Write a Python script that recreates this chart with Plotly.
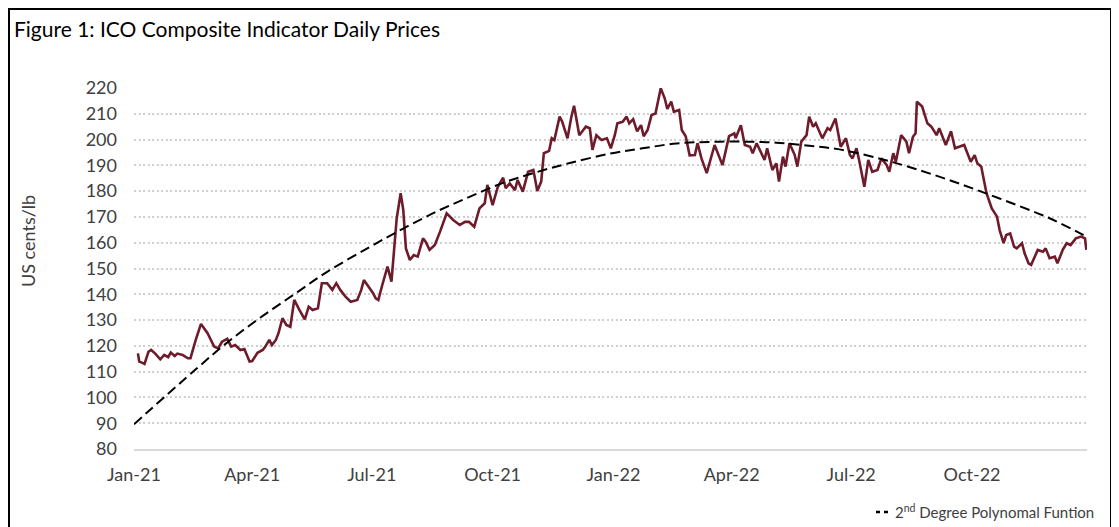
import plotly.graph_objects as go

# ---- Data ----
price_dates = [
    "2021-01-04", "2021-01-05", "2021-01-07", "2021-01-09", "2021-01-12", "2021-01-14", "2021-01-17",
    "2021-01-21", "2021-01-24", "2021-01-27", "2021-01-29", "2021-02-01", "2021-02-03", "2021-02-07",
    "2021-02-11", "2021-02-13", "2021-02-17", "2021-02-21", "2021-02-26", "2021-03-03", "2021-03-06",
    "2021-03-09", "2021-03-13", "2021-03-16", "2021-03-19", "2021-03-23", "2021-03-26", "2021-03-30",
    "2021-04-01", "2021-04-05", "2021-04-09", "2021-04-11", "2021-04-14", "2021-04-16", "2021-04-19",
    "2021-04-21", "2021-04-24", "2021-04-27", "2021-04-30", "2021-05-03", "2021-05-07", "2021-05-11",
    "2021-05-14", "2021-05-17", "2021-05-21", "2021-05-24", "2021-05-28", "2021-06-01", "2021-06-04",
    "2021-06-07", "2021-06-11", "2021-06-15", "2021-06-20", "2021-06-23", "2021-06-25", "2021-06-28",
    "2021-07-02", "2021-07-04", "2021-07-06", "2021-07-09", "2021-07-13", "2021-07-16", "2021-07-18",
    "2021-07-20", "2021-07-23", "2021-07-25", "2021-07-27", "2021-07-30", "2021-08-02", "2021-08-05",
    "2021-08-09", "2021-08-11", "2021-08-14", "2021-08-18", "2021-08-22", "2021-08-27", "2021-09-01",
    "2021-09-06", "2021-09-10", "2021-09-13", "2021-09-17", "2021-09-21", "2021-09-25", "2021-09-27",
    "2021-10-01", "2021-10-05", "2021-10-09", "2021-10-11", "2021-10-14", "2021-10-18", "2021-10-20",
    "2021-10-24", "2021-10-28", "2021-11-01", "2021-11-02", "2021-11-04", "2021-11-07", "2021-11-09",
    "2021-11-13", "2021-11-15", "2021-11-17", "2021-11-21", "2021-11-23", "2021-11-27", "2021-11-30",
    "2021-12-02", "2021-12-06", "2021-12-11", "2021-12-14", "2021-12-16", "2021-12-19", "2021-12-23",
    "2021-12-27", "2021-12-30", "2022-01-02", "2022-01-04", "2022-01-08", "2022-01-11", "2022-01-13",
    "2022-01-16", "2022-01-19", "2022-01-22", "2022-01-24", "2022-01-27", "2022-01-30", "2022-02-02",
    "2022-02-06", "2022-02-09", "2022-02-11", "2022-02-14", "2022-02-16", "2022-02-20", "2022-02-22",
    "2022-02-25", "2022-02-28", "2022-03-04", "2022-03-06", "2022-03-09", "2022-03-13", "2022-03-19",
    "2022-03-25", "2022-03-30", "2022-04-03", "2022-04-04", "2022-04-08", "2022-04-11", "2022-04-15",
    "2022-04-17", "2022-04-20", "2022-04-23", "2022-04-26", "2022-04-28", "2022-05-02", "2022-05-05",
    "2022-05-07", "2022-05-10", "2022-05-12", "2022-05-15", "2022-05-19", "2022-05-21", "2022-05-24",
    "2022-05-28", "2022-05-30", "2022-06-02", "2022-06-04", "2022-06-09", "2022-06-13", "2022-06-15",
    "2022-06-19", "2022-06-23", "2022-06-27", "2022-06-30", "2022-07-02", "2022-07-05", "2022-07-07",
    "2022-07-11", "2022-07-14", "2022-07-17", "2022-07-21", "2022-07-24", "2022-07-28", "2022-07-30",
    "2022-08-02", "2022-08-04", "2022-08-08", "2022-08-12", "2022-08-14", "2022-08-17", "2022-08-19",
    "2022-08-20", "2022-08-24", "2022-08-28", "2022-08-31", "2022-09-04", "2022-09-06", "2022-09-11",
    "2022-09-15", "2022-09-18", "2022-09-21", "2022-09-25", "2022-09-30", "2022-10-03", "2022-10-05",
    "2022-10-08", "2022-10-12", "2022-10-16", "2022-10-20", "2022-10-22", "2022-10-25", "2022-10-27",
    "2022-10-30", "2022-11-02", "2022-11-04", "2022-11-08", "2022-11-10", "2022-11-13", "2022-11-15",
    "2022-11-18", "2022-11-20", "2022-11-24", "2022-11-26", "2022-11-29", "2022-12-03", "2022-12-05",
    "2022-12-09", "2022-12-12", "2022-12-15", "2022-12-19", "2022-12-23", "2022-12-26", "2022-12-27",
]
price_values = [
    117.1, 113.9, 113.5, 113.0, 117.7, 118.4, 117.1,
    114.8, 116.5, 115.6, 117.4, 116.1, 117.0, 116.5,
    115.2, 115.2, 122.3, 128.5, 124.9, 119.7, 119.0,
    121.6, 122.7, 119.7, 120.3, 118.4, 118.8, 113.9,
    114.1, 117.3, 118.4, 119.7, 122.3, 120.3, 122.3,
    124.9, 130.7, 128.1, 127.4, 137.8, 133.9, 130.3,
    135.2, 133.9, 134.6, 144.3, 144.3, 141.7, 144.3,
    141.7, 139.1, 137.1, 137.8, 141.7, 145.5, 143.5,
    140.4, 138.4, 137.8, 143.6, 150.7, 144.9, 157.8,
    169.5, 179.2, 172.7, 157.8, 153.3, 155.2, 154.6,
    161.7, 160.4, 157.2, 159.1, 164.3, 171.4, 168.8,
    166.9, 168.1, 168.1, 166.2, 173.3, 175.3, 182.4,
    174.6, 181.7, 185.2, 181.1, 183.0, 180.4, 184.3,
    179.8, 187.5, 188.2, 185.6, 180.1, 183.7, 194.7,
    195.6, 200.5, 199.8, 208.9, 206.9, 200.5, 208.9,
    213.1, 201.7, 205.0, 204.4, 196.0, 201.7, 199.8,
    200.5, 196.6, 201.7, 206.3, 206.9, 208.9, 206.3,
    207.9, 203.2, 205.6, 201.3, 203.7, 209.5, 210.1,
    219.9, 216.0, 211.9, 214.7, 210.8, 211.5, 203.7,
    201.3, 193.9, 194.0, 198.6, 192.7, 187.0, 197.9,
    190.1, 201.3, 202.4, 200.5, 205.6, 197.9, 197.2,
    194.7, 198.6, 195.3, 192.1, 196.6, 188.2, 190.8,
    183.7, 193.4, 189.5, 198.6, 194.0, 189.5, 199.2,
    201.7, 208.9, 205.0, 206.3, 200.5, 204.4, 203.7,
    208.2, 197.2, 200.5, 194.0, 192.7, 196.6, 192.1,
    181.7, 192.1, 187.5, 188.2, 192.7, 190.1, 187.5,
    194.7, 191.4, 201.7, 199.2, 194.7, 201.1, 202.4,
    214.7, 212.8, 206.3, 205.0, 201.7, 204.4, 197.9,
    203.2, 196.6, 197.2, 197.9, 191.4, 194.0, 190.8,
    189.5, 179.2, 173.3, 170.1, 164.9, 159.8, 163.0,
    163.6, 158.5, 157.8, 159.8, 155.9, 152.0, 151.4,
    154.6, 157.2, 156.5, 157.8, 154.0, 154.6, 152.0,
    157.2, 159.8, 159.1, 161.7, 162.4, 161.7, 157.2,
]

trend_dates = [
    "2021-01-01", "2021-02-17", "2021-03-13", "2021-04-07", "2021-05-03", "2021-05-28", "2021-06-29",
    "2021-07-25", "2021-08-19", "2021-09-13", "2021-10-09", "2021-11-03", "2021-11-28", "2021-12-29",
    "2022-01-23", "2022-02-18", "2022-03-15", "2022-04-09", "2022-05-05", "2022-05-30", "2022-06-24",
    "2022-07-25", "2022-08-19", "2022-09-13", "2022-10-08", "2022-11-04", "2022-11-29", "2022-12-22",
    "2022-12-27",
]
trend_values = [
    89.6, 110.9, 121.3, 130.9, 140.0, 148.7, 158.2,
    165.5, 172.0, 177.7, 183.2, 187.3, 190.8, 194.5,
    196.6, 198.5, 199.1, 199.2, 198.8, 197.6, 196.0,
    192.3, 188.6, 184.4, 179.8, 174.6, 169.5, 163.7,
    162.4,
]

y_ticks = [80, 90, 100, 110, 120, 130, 140, 150, 160, 170, 180, 190, 200, 210, 220]
x_ticks = ["2021-01-01", "2021-04-01", "2021-07-01", "2021-10-01",
           "2022-01-01", "2022-04-01", "2022-07-01", "2022-10-01"]
x_ticklabels = ["Jan-21", "Apr-21", "Jul-21", "Oct-21", "Jan-22", "Apr-22", "Jul-22", "Oct-22"]

title_text = "Figure 1: ICO Composite Indicator Daily Prices"
y_title = "US cents/lb"
legend_text = "2<sup>nd</sup> Degree Polynomal Funtion"

FONT = "Lato"
OFF = 8  # page body margin of the browser
W, H = 1119 - OFF, 527 - OFF
# plot area in page pixels of the reference
L, R, T, B = 134 - OFF, 1087 - OFF, 88 - OFF, 449 - OFF


def px_x(p):
    p = p - OFF
    return (p - L) / (R - L)


def px_y(p):
    p = p - OFF
    return (B - p) / (B - T)


fig = go.Figure()
fig.add_trace(go.Scatter(
    x=price_dates, y=price_values, mode="lines",
    line=dict(color="#6E1C2C", width=2.6), showlegend=False, name="ICO",
))
fig.add_trace(go.Scatter(
    x=trend_dates, y=trend_values, mode="lines",
    line=dict(color="#000000", width=2, dash="10px,5px", shape="spline", smoothing=1.0),
    showlegend=False, name="Trend",
))

fig.update_layout(
    width=W, height=H,
    margin=dict(l=L, r=W - R, t=T, b=H - B, pad=0),
    paper_bgcolor="white", plot_bgcolor="white",
    font=dict(family=FONT, size=18, color="#404040"),
    xaxis=dict(
        type="date",
        range=["2021-01-01", "2022-12-27 12:00"],
        tickvals=x_ticks, ticktext=x_ticklabels,
        showgrid=False, zeroline=False,
        showline=True, linecolor="#D9D9D9", linewidth=2,
        ticks="", ticklabelstandoff=8,
        tickfont=dict(family=FONT, size=18, color="#404040"),
    ),
    yaxis=dict(
        range=[80, 220], tickvals=y_ticks,
        showgrid=True, gridcolor="#D0D0D0", gridwidth=2, griddash="2px,2.5px",
        zeroline=False, showline=False, ticks="", ticklabelstandoff=16,
        tickfont=dict(family=FONT, size=18, color="#404040"),
    ),
)

annotations = [
    dict(text=title_text, xref="paper", yref="paper", x=px_x(12), y=px_y(28),
         xanchor="left", yanchor="middle", showarrow=False,
         font=dict(family=FONT, size=21, color="#000000")),
    dict(text=y_title, xref="paper", yref="paper", x=px_x(28), y=px_y(241),
         xanchor="center", yanchor="middle", textangle=-90, showarrow=False,
         font=dict(family=FONT, size=18, color="#404040")),
    dict(text=legend_text, xref="paper", yref="paper", x=px_x(893), y=px_y(512),
         xanchor="left", yanchor="middle", showarrow=False,
         font=dict(family=FONT, size=15, color="#404040")),
]
fig.update_layout(annotations=annotations)

shapes = [
    # outer frame
    dict(type="rect", xref="paper", yref="paper",
         x0=px_x(9), x1=px_x(1111), y0=px_y(545), y1=px_y(9),
         line=dict(color="#000000", width=2), fillcolor="rgba(0,0,0,0)", layer="above"),
    # legend dash sample
    dict(type="line", xref="paper", yref="paper",
         x0=px_x(876), x1=px_x(890), y0=px_y(512), y1=px_y(512),
         line=dict(color="#000000", width=2.5, dash="4px,4px")),
]
fig.update_layout(shapes=shapes)

fig.write_html("out.html")
